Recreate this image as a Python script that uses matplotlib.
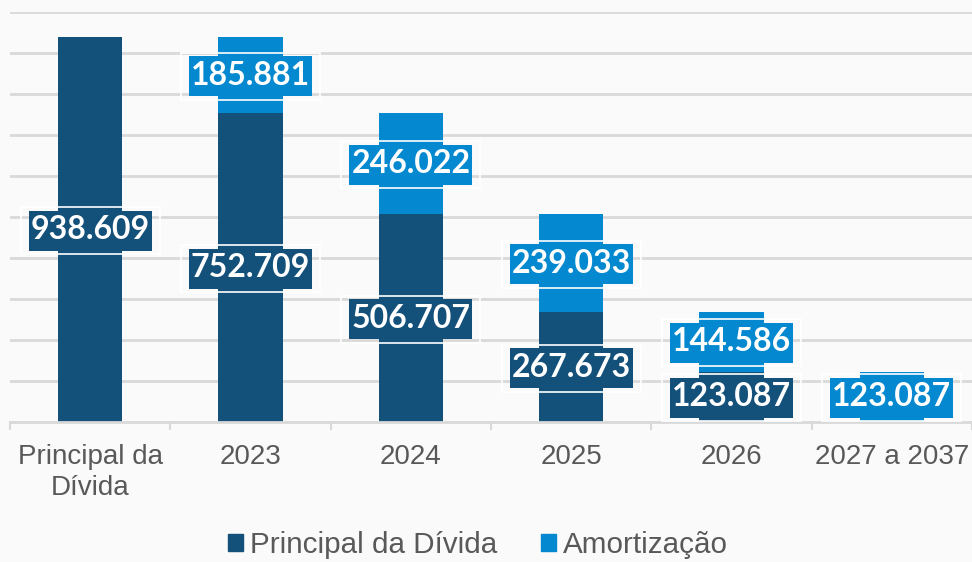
import matplotlib
matplotlib.use("Agg")
import matplotlib.pyplot as plt
from matplotlib.patches import Rectangle
import numpy as np

categories = ["Principal da\nDívida", "2023", "2024", "2025", "2026", "2027 a 2037"]
principal = [938.609, 752.709, 506.707, 267.673, 123.087, 0.0]
amortizacao = [0.0, 185.881, 246.022, 239.033, 144.586, 123.087]
principal_labels = ["938.609", "752.709", "506.707", "267.673", "123.087", None]
amort_labels = [None, "185.881", "246.022", "239.033", "144.586", "123.087"]
series_names = ["Principal da Dívida", "Amortização"]

DARK = "#13507a"
LIGHT = "#0489d1"
BG = "#fafafa"
GRID = "#d9d9d9"
TXT = "#595959"

fig = plt.figure(figsize=(9.72, 5.62), dpi=100, facecolor=BG)
ax = fig.add_axes([10/972, (562-422)/562, 962/972, 410/562])
ax.set_facecolor(BG)

x = np.arange(len(categories))
w = 0.4
ax.bar(x, principal, w, color=DARK, zorder=2, edgecolor="none")
ax.bar(x, amortizacao, w, bottom=principal, color=LIGHT, zorder=2, edgecolor="none")

ax.set_xlim(-0.5, len(categories) - 0.5)
ax.set_ylim(0, 1000)
ax.set_yticks(np.arange(100, 1001, 100))
ax.yaxis.grid(True, color=GRID, linewidth=2, zorder=0)
ax.tick_params(axis="y", length=0, labelleft=False)
for s in ["top", "right", "left"]:
    ax.spines[s].set_visible(False)
ax.spines["bottom"].set_color(GRID)
ax.spines["bottom"].set_linewidth(2)
ax.set_xticks(x)
ax.set_xticklabels(categories, fontsize=20, color=TXT, family="Liberation Sans", linespacing=1.25)
ax.tick_params(axis="x", length=0, pad=15.5)
# boundary tick marks
for b in np.arange(-0.5, len(categories), 1.0):
    ax.plot([b, b], [0, -18], color=GRID, lw=1.5, clip_on=False, zorder=1)

texts = []
for i in range(len(categories)):
    if principal_labels[i]:
        t = ax.text(x[i], principal[i] / 2, principal_labels[i], ha="center", va="center",
                    color="white", fontsize=23, fontweight="bold", family="Lato", zorder=5)
        texts.append((t, DARK))
    if amort_labels[i]:
        t = ax.text(x[i], principal[i] + amortizacao[i] / 2, amort_labels[i], ha="center", va="center",
                    color="white", fontsize=23, fontweight="bold", family="Lato", zorder=5)
        texts.append((t, LIGHT))

fig.canvas.draw()
r = fig.canvas.get_renderer()
inv = fig.transFigure.inverted()
for t, c in texts:
    bb = t.get_window_extent(r)
    cx = (bb.x0 + bb.x1) / 2
    cy = (bb.y0 + bb.y1) / 2
    fw = bb.width + 4
    fh = 40
    ow = fw + 16
    oh = fh + 7
    for (ww, hh, fc, ec, z) in [(ow, oh, "none", "white", 3), (fw, fh, c, "none", 4)]:
        (x0, y0) = inv.transform((cx - ww / 2, cy - hh / 2 - 1))
        (x1, y1) = inv.transform((cx + ww / 2, cy + hh / 2 - 1))
        rect = Rectangle((x0, y0), x1 - x0, y1 - y0, transform=fig.transFigure,
                         facecolor=fc, edgecolor=ec, lw=1.2, zorder=z)
        ax.add_artist(rect)

handles = [Rectangle((0, 0), 1, 1, color=DARK), Rectangle((0, 0), 1, 1, color=LIGHT)]
leg = fig.legend(handles, series_names, loc="center",
                 bbox_to_anchor=(478/972, 1 - 545/562), ncol=2, frameon=False,
                 prop={"family": "Liberation Sans", "size": 21.3}, handlelength=0.52,
                 handleheight=0.52, handletextpad=0.25, columnspacing=1.45, labelcolor=TXT)

fig.savefig("out.png", dpi=100, facecolor=BG)
